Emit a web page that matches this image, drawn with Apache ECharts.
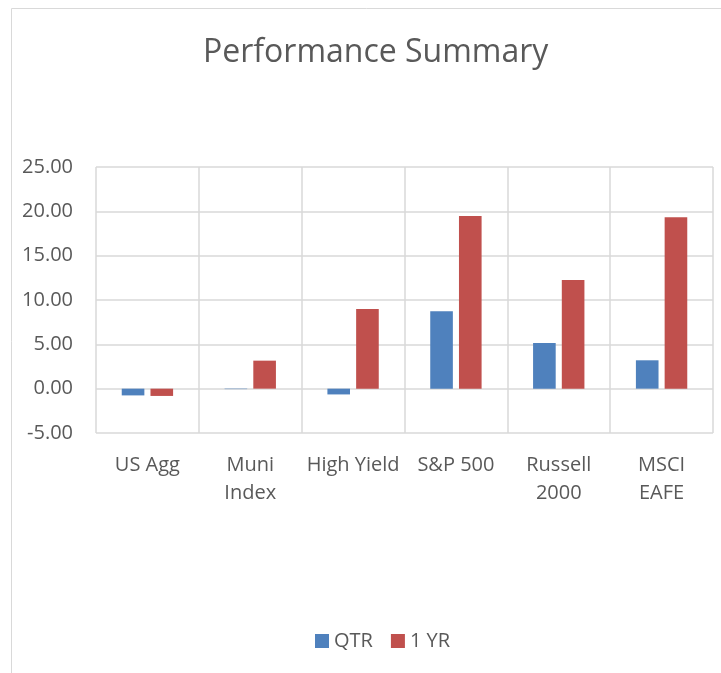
<!DOCTYPE html>
<html>
<head>
<meta charset="utf-8">
<style>
  html, body { margin: 0; padding: 0; background: #fff; }
  #main { width: 721px; height: 673px; }
</style>
<script src="https://cdn.jsdelivr.net/npm/echarts@6/dist/echarts.min.js"></script>
</head>
<body>
<div id="main"></div>
<script>
// chart data
var categories = ["US Agg", "Muni\nIndex", "High Yield", "S&P 500", "Russell\n2000", "MSCI\nEAFE"];
var qtr = [-0.76, -0.05, -0.65, 8.72, 5.15, 3.2];
var oneYr = [-0.82, 3.16, 8.98, 19.47, 12.25, 19.32];

var textColor = "#595959";
var gridColor = "#d9d9d9";
var font = "Open Sans";

var chart = echarts.init(document.getElementById("main"));

chart.setOption({
  animation: false,
  textStyle: { fontFamily: font, color: textColor },
  graphic: [
    {
      type: "rect",
      shape: { x: 11.5, y: 8.5, width: 720, height: 680 },
      style: { fill: "none", stroke: "#d9d9d9", lineWidth: 1 }
    }
  ],
  // the original chart is wider than the crop, so title and legend sit right of centre
  title: {
    text: "Performance Summary",
    left: 198,
    top: 32,
    textStyle: {
      fontFamily: font,
      fontSize: 32,
      fontWeight: "normal",
      color: textColor
    }
  },
  legend: {
    top: 626,
    left: 310,
    itemWidth: 14,
    itemHeight: 14,
    itemGap: 18,
    icon: "rect",
    textStyle: { fontFamily: font, fontSize: 20, color: textColor },
    data: ["QTR", "1 YR"]
  },
  grid: {
    left: 96,
    right: 8,
    top: 167,
    bottom: 240
  },
  xAxis: {
    type: "category",
    data: categories,
    axisLine: { show: false },
    axisTick: { show: false },
    splitLine: {
      show: true,
      lineStyle: { color: gridColor, width: 1.5 }
    },
    axisLabel: {
      interval: 0,
      margin: 18,
      fontFamily: font,
      fontSize: 20,
      lineHeight: 28,
      color: textColor
    }
  },
  yAxis: {
    type: "value",
    min: -5,
    max: 25,
    interval: 5,
    axisLine: { show: false },
    axisTick: { show: false },
    splitLine: { lineStyle: { color: gridColor, width: 1.5 } },
    axisLabel: {
      margin: 23,
      fontFamily: font,
      fontSize: 20,
      color: textColor,
      formatter: function (v) {
        return v.toFixed(2);
      }
    }
  },
  series: [
    {
      name: "QTR",
      type: "bar",
      data: qtr,
      barWidth: "22%",
      barGap: "27%",
      itemStyle: { color: "#4f81bd" }
    },
    {
      name: "1 YR",
      type: "bar",
      data: oneYr,
      barWidth: "22%",
      itemStyle: { color: "#c0504d" }
    }
  ]
});
</script>
</body>
</html>
